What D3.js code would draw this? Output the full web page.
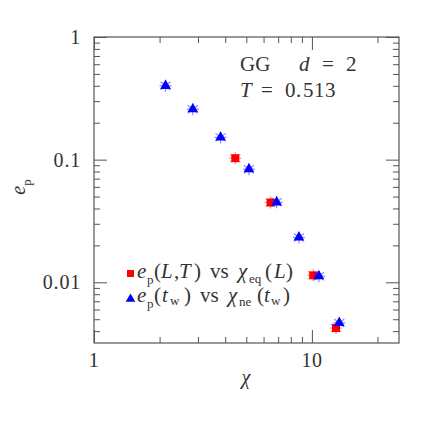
<!DOCTYPE html>
<html><head><meta charset="utf-8">
<script src="https://cdn.jsdelivr.net/npm/d3@7"></script>
<style>body{margin:0;background:#fff}svg{display:block}text{white-space:pre}</style>
</head><body>
<script>
// data
const eqChi = [4.45, 6.46, 10.14, 12.9];
const eqEp  = [0.1028, 0.0447, 0.0114, 0.00424];
const neChi = [2.13, 2.84, 3.81, 5.14, 6.89, 8.72, 10.77, 13.35];
const neEp  = [0.400, 0.258, 0.152, 0.0836, 0.0449, 0.0232, 0.0112, 0.00466];
const xTickLabels = ["1", "10"];
const yTickLabels = ["1", "0.1", "0.01"];

const W = 436, H = 436;
const m = {l: 94, r: 37, t: 37, b: 93};
const svg = d3.select("body").append("svg").attr("width", W).attr("height", H);
const x = d3.scaleLog().domain([1, 25.1]).range([m.l, W - m.r]);
const y = d3.scaleLog().domain([0.0032, 1]).range([H - m.b, m.t]);
const font = "'Liberation Serif', 'DejaVu Serif', serif";
const axisCol = "#555";
const txtCol = "#333";

const xMajor = [1, 10];
const xMinor = [2,3,4,5,6,7,8,9,20];
const yMajor = [1, 0.1, 0.01];
const yMinor = [];
[0.1, 0.01, 0.001].forEach(d => { for (let k = 2; k <= 9; k++) { const v = d * k; if (v >= 0.0032 && v < 1) yMinor.push(v); } });

const g = svg.append("g");
function ax(axisGen, tr, vals, size) {
  const a = g.append("g").attr("transform", tr).call(axisGen.tickValues(vals).tickSize(size).tickFormat(""));
  a.select(".domain").remove();
  a.selectAll("line").attr("stroke", axisCol).attr("stroke-width", 1);
}
const B = H - m.b, R = W - m.r;
ax(d3.axisTop(x), `translate(0,${B})`, xMajor, 13);
ax(d3.axisTop(x), `translate(0,${B})`, xMinor, 6);
ax(d3.axisBottom(x), `translate(0,${m.t})`, xMajor, 13);
ax(d3.axisBottom(x), `translate(0,${m.t})`, xMinor, 6);
ax(d3.axisRight(y), `translate(${m.l},0)`, yMajor, 13);
ax(d3.axisRight(y), `translate(${m.l},0)`, yMinor, 6);
ax(d3.axisLeft(y), `translate(${R},0)`, yMajor, 13);
ax(d3.axisLeft(y), `translate(${R},0)`, yMinor, 6);

g.append("rect").attr("x", m.l).attr("y", m.t).attr("width", R - m.l).attr("height", B - m.t)
  .attr("fill", "none").attr("stroke", axisCol).attr("stroke-width", 1.2);

// tick labels
g.selectAll(".xl").data(xMajor).enter().append("text")
  .attr("x", d => x(d)).attr("y", B + 24).attr("text-anchor", "middle")
  .attr("font-family", font).attr("font-size", 20).attr("fill", txtCol).attr("letter-spacing", 0.5)
  .text((d, i) => xTickLabels[i]);
g.selectAll(".yl").data(yMajor).enter().append("text")
  .attr("x", m.l - 13).attr("y", d => y(d) + 7).attr("text-anchor", "end")
  .attr("font-family", font).attr("font-size", 20).attr("fill", txtCol).attr("letter-spacing", 0.8)
  .text((d, i) => yTickLabels[i]);

// axis titles
g.append("text").attr("x", 246).attr("y", 384).attr("text-anchor", "middle")
  .attr("font-family", font).attr("font-style", "italic").attr("font-size", 20).attr("fill", txtCol).text("χ");
const yt = g.append("text").attr("transform", "translate(25,187) rotate(-90)").attr("text-anchor", "middle")
  .attr("font-family", font).attr("font-size", 20).attr("fill", txtCol);
yt.append("tspan").attr("font-style", "italic").text("e");
yt.append("tspan").attr("font-size", 13).attr("dy", 6).text("p");

// rich text helper: pieces [text, x, yOffset, italic, small]
function rich(baseY, parts, size) {
  const t = g.append("text").attr("font-family", font).attr("font-size", size).attr("fill", txtCol);
  parts.forEach(p => {
    const s = t.append("tspan").attr("x", p[1]).attr("y", baseY + (p[2] || 0)).text(p[0]);
    if (p[3]) s.attr("font-style", "italic");
    if (p[4]) s.attr("font-size", 13);
  });
}

// annotation
rich(71, [["GG", 240, 0], ["d", 299, 0, 1], ["=", 322, 0], ["2", 346, 0]], 21);
rich(97, [["T", 240, 0, 1], ["=", 261, 0], ["0", 285, 0], [".", 296, 0], ["5", 303, 0], ["1", 314, 0], ["3", 325, 0]], 21);

// markers
const eq = eqChi.map((c, i) => ({c, e: eqEp[i]}));
const ne = neChi.map((c, i) => ({c, e: neEp[i]}));
function errbars(data, col) {
  const gg = g.append("g").attr("stroke", col).attr("stroke-width", 1.2).attr("opacity", 0.45);
  data.forEach(d => {
    const px = x(d.c), py = y(d.e);
    gg.append("line").attr("x1", px - 6).attr("x2", px + 6).attr("y1", py).attr("y2", py);
    gg.append("line").attr("x1", px).attr("x2", px).attr("y1", py - 6).attr("y2", py + 6);
    gg.append("line").attr("x1", px - 5).attr("x2", px + 5).attr("y1", py - 4).attr("y2", py + 4);
    gg.append("line").attr("x1", px - 5).attr("x2", px + 5).attr("y1", py + 4).attr("y2", py - 4);
  });
}
errbars(eq, "#ff0000");
g.selectAll(".sq").data(eq).enter().append("rect")
  .attr("x", d => x(d.c) - 4).attr("y", d => y(d.e) - 4).attr("width", 8).attr("height", 8).attr("fill", "#ff0000");
errbars(ne, "#0000ff");
const tri = d3.symbol().type(d3.symbolTriangle).size(50);
g.selectAll(".tr").data(ne).enter().append("path")
  .attr("d", tri).attr("transform", d => `translate(${x(d.c)},${y(d.e)})`).attr("fill", "#0000ff");

// legend
g.append("rect").attr("x", 127).attr("y", 270).attr("width", 7).attr("height", 7).attr("fill", "#ff0000");
g.append("path").attr("d", d3.symbol().type(d3.symbolTriangle).size(40)).attr("transform", "translate(130.5,299)").attr("fill", "#0000ff");
rich(278, [["e",137,0,1],["p",147,6,0,1],["(",154],["L",161,0,1],[",",174],["T",179,0,1],[")",194],
           ["vs",210],["χ",238,0,1],["eq",249,5,0,1],["(",265],["L",274,0,1],[")",286]], 21);
rich(302, [["e",137,0,1],["p",147,6,0,1],["(",154],["t",162,0,1],["w",170,3,0,1],[")",184],
           ["vs",200],["χ",228,0,1],["ne",239,4,0,1],["(",257],["t",264,0,1],["w",271,3,0,1],[")",283]], 21);
</script>
</body></html>
